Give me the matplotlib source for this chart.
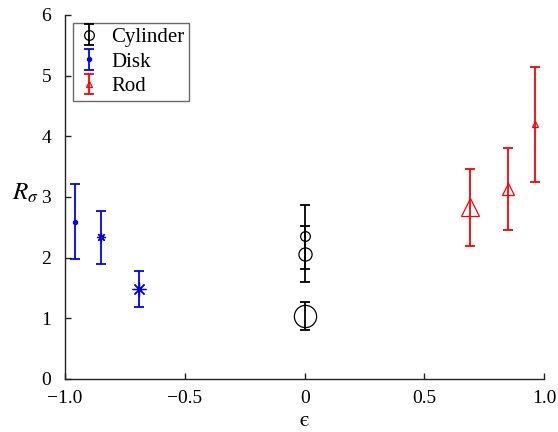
import matplotlib
matplotlib.use("Agg")
import matplotlib.pyplot as plt

plt.rcParams["font.family"] = ["Liberation Serif", "DejaVu Serif"]
plt.rcParams["mathtext.fontset"] = "stix"

# Cylinder (black circles)
cyl_x = [0.0, 0.0, 0.0]
cyl_y = [2.35, 2.06, 1.04]
cyl_lo = [1.81, 1.60, 0.80]
cyl_hi = [2.87, 2.52, 1.27]
cyl_ms = [7, 9.5, 16]

# Disk (blue asterisks)
disk_x = [-0.96, -0.85, -0.69]
disk_y = [2.59, 2.34, 1.48]
disk_lo = [1.97, 1.90, 1.18]
disk_hi = [3.22, 2.77, 1.78]
disk_ms = [3, 6.5, 10]
disk_mk = ["o", (8, 2, 0), (8, 2, 0)]

# Rod (red triangles)
rod_x = [0.96, 0.85, 0.69]
rod_y = [4.20, 3.13, 2.84]
rod_lo = [3.24, 2.46, 2.20]
rod_hi = [5.14, 3.80, 3.46]
rod_ms = [5, 9, 13]

fig = plt.figure(figsize=(5.58, 4.32), dpi=100)
ax = fig.add_axes([0.1165, 0.1227, 0.859, 0.8426])


def draw(xs, ys, lo, hi, sizes, markers, color, label):
    handle = None
    for i, (x, y, l, h, ms, mk) in enumerate(zip(xs, ys, lo, hi, sizes, markers)):
        filled = isinstance(mk, str) and mk == "o" and color == "blue"
        c = ax.errorbar(x, y, yerr=[[y - l], [h - y]], fmt="none",
                        ecolor=color, elinewidth=1.3, capsize=3.5, capthick=1.3,
                        label=label if i == 0 else None)
        ax.plot(x, y, linestyle="none", marker=mk, ms=ms,
                mfc=color if filled else "none", mec=color, mew=0.9)
        if i == 0:
            handle = (c, ax.lines[-1])
    return handle


h1 = draw(cyl_x, cyl_y, cyl_lo, cyl_hi, cyl_ms, ["o"] * 3, "black", "Cylinder")
h2 = draw(disk_x, disk_y, disk_lo, disk_hi, disk_ms, disk_mk, "blue", "Disk")
h3 = draw(rod_x, rod_y, rod_lo, rod_hi, rod_ms, ["^"] * 3, "red", "Rod")

ax.set_xlim(-1, 1)
ax.set_ylim(0, 6)
ax.set_xticks([-1, -0.5, 0, 0.5, 1])
ax.set_xticklabels(["\u22121.0", "\u22120.5", "0", "0.5", "1.0"])
ax.set_yticks(range(7))
ax.spines["top"].set_visible(False)
ax.spines["right"].set_visible(False)
for s in ("left", "bottom"):
    ax.spines[s].set_linewidth(1.0)
    ax.spines[s].set_color("#222222")
ax.tick_params(direction="in", length=4, width=1.0, labelsize=14, colors="#222222",
               labelcolor="black")
ax.tick_params(axis="y", pad=10)
ax.tick_params(axis="x", pad=8)
ax.set_xlabel("\u03f5", fontsize=16, family="STIXGeneral", labelpad=3)
ax.text(-0.083, 0.511, r"$R_\sigma$", fontsize=18, transform=ax.transAxes,
        ha="center", va="center")

leg = ax.legend(handles=[h1, h2, h3], labels=["Cylinder", "Disk", "Rod"],
                loc="upper left", bbox_to_anchor=(0.0167, 0.978), fontsize=15,
                frameon=True, fancybox=False, edgecolor="#444444",
                handlelength=1.1, handletextpad=0.5, borderpad=0.22,
                labelspacing=0.24, borderaxespad=0)
leg.get_frame().set_linewidth(1.0)

fig.savefig("out.png", dpi=100)
